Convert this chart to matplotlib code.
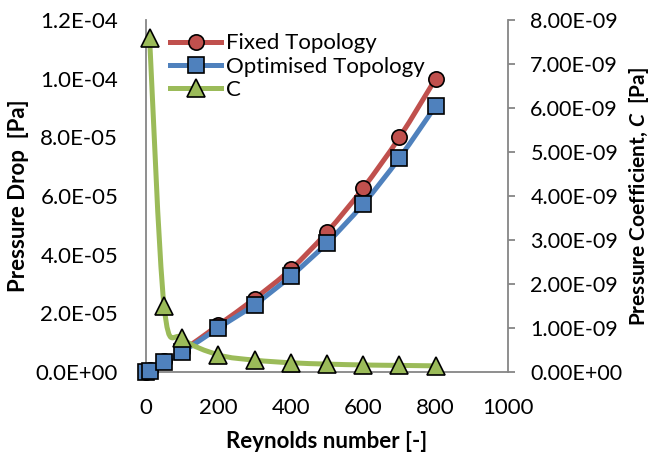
import matplotlib
matplotlib.use("Agg")
import matplotlib.pyplot as plt
from matplotlib.path import Path
from matplotlib.patches import PathPatch
from matplotlib.ticker import FuncFormatter
from matplotlib.lines import Line2D
import numpy as np

plt.rcParams['font.family'] = ['Lato', 'DejaVu Sans']
plt.rcParams['mathtext.fontset'] = 'custom'
plt.rcParams['mathtext.it'] = 'Lato:italic:bold'
plt.rcParams['mathtext.rm'] = 'Lato:bold'

# data
re = [1, 10, 50, 100, 200, 300, 400, 500, 600, 700, 800]
dp_fixed = [0.05e-6, 0.6e-6, 3.6e-6, 7.2e-6, 1.6e-5, 2.5e-5, 3.5e-5, 4.77e-5, 6.27e-5, 8.0e-5, 1.0e-4]
dp_opt = [0.05e-6, 0.5e-6, 3.4e-6, 6.8e-6, 1.5e-5, 2.3e-5, 3.27e-5, 4.4e-5, 5.73e-5, 7.3e-5, 9.07e-5]
re_c = [10, 50, 100, 200, 300, 400, 500, 600, 700, 800]
coef_c = [7.6e-9, 1.5e-9, 0.77e-9, 0.39e-9, 0.27e-9, 0.21e-9, 0.18e-9, 0.16e-9, 0.15e-9, 0.14e-9]

x_ticks = [0, 200, 400, 600, 800, 1000]
left_ticks = [0, 2e-5, 4e-5, 6e-5, 8e-5, 1e-4, 1.2e-4]
right_ticks = [0, 1e-9, 2e-9, 3e-9, 4e-9, 5e-9, 6e-9, 7e-9, 8e-9]

red = '#C0504D'
blue = '#4F81BD'
green = '#9BBB59'
grey = '#868686'
fs = 16


def smooth_path(ax, xs, ys, color, lw=3.6):
    # excel style smoothed line, bezier through the points
    pts = ax.transData.transform(np.column_stack([xs, ys]))
    verts = [tuple(pts[0])]
    codes = [Path.MOVETO]
    n = len(pts)
    for i in range(n - 1):
        p0 = pts[i - 1] if i > 0 else pts[i]
        p1 = pts[i]
        p2 = pts[i + 1]
        p3 = pts[i + 2] if i + 2 < n else pts[i + 1]
        c1 = p1 + (p2 - p0) / 6.0
        c2 = p2 - (p3 - p1) / 6.0
        verts += [tuple(c1), tuple(c2), tuple(p2)]
        codes += [Path.CURVE4] * 3
    path = Path(verts, codes)
    patch = PathPatch(path, transform=None, facecolor='none', edgecolor=color,
                      lw=lw, capstyle='round', joinstyle='round', clip_on=True)
    patch.set_clip_box(ax.bbox)
    ax.add_artist(patch)


fig = plt.figure(figsize=(6.59, 4.55), dpi=100)
ax = fig.add_axes([0.2215, 0.1824, 0.5495, 0.7736])
ax2 = ax.twinx()

ax.set_xlim(0, 1000)
ax.set_ylim(0, 1.2e-4)
ax2.set_ylim(0, 8e-9)

ax.set_xticks(x_ticks)
ax.set_yticks(left_ticks)
ax2.set_yticks(right_ticks)
ax.yaxis.set_major_formatter(FuncFormatter(lambda v, p: '{:.1E}'.format(v)))
ax2.yaxis.set_major_formatter(FuncFormatter(lambda v, p: '{:.2E}'.format(v)))

for a in (ax, ax2):
    a.spines['top'].set_visible(False)
    for s in ('left', 'right', 'bottom'):
        a.spines[s].set_color(grey)
        a.spines[s].set_linewidth(1.3)
ax.spines['right'].set_visible(False)
ax2.spines['left'].set_visible(False)
ax2.spines['bottom'].set_visible(False)

ax.tick_params(axis='x', length=0, pad=19, labelsize=fs)
ax.tick_params(axis='y', length=0, pad=20, labelsize=fs)
ax2.tick_params(axis='y', length=5, width=1.3, color=grey, direction='out', pad=11, labelsize=15.5)

fig.canvas.draw()

smooth_path(ax, re, dp_fixed, red)
ax.plot(re, dp_fixed, ls='none', marker='o', ms=11, mfc=red, mec='black', mew=1.2, clip_on=False, zorder=3)
smooth_path(ax, re, dp_opt, blue)
ax.plot(re, dp_opt, ls='none', marker='s', ms=11, mfc=blue, mec='black', mew=1.2, clip_on=False, zorder=3)
smooth_path(ax2, re_c, coef_c, green)
ax2.plot(re_c, coef_c, ls='none', marker='^', ms=13, mfc=green, mec='black', mew=1.2, clip_on=False, zorder=3)

ax.set_xlabel('Reynolds number [-]', fontsize=fs, fontweight='bold', labelpad=9)
ax.set_ylabel('Pressure Drop  [Pa]', fontsize=fs, fontweight='bold', labelpad=5)
ax2.set_ylabel('Pressure Coefficient, $\\mathit{C}$  [Pa]', fontsize=15, fontweight='bold', labelpad=3)

handles = [
    Line2D([], [], color=red, lw=3.6, marker='o', ms=11, mfc=red, mec='black', mew=1.2),
    Line2D([], [], color=blue, lw=3.6, marker='s', ms=11, mfc=blue, mec='black', mew=1.2),
    Line2D([], [], color=green, lw=3.6, marker='^', ms=13, mfc=green, mec='black', mew=1.2),
]
leg = ax2.legend(handles, ['Fixed Topology', 'Optimised Topology', 'C'], loc='upper left',
                 bbox_to_anchor=(0.03, 1.0), frameon=False, fontsize=fs,
                 handlelength=2.3, handletextpad=0.2, labelspacing=0.15, borderaxespad=0.2)

fig.savefig('out.png', dpi=100)
